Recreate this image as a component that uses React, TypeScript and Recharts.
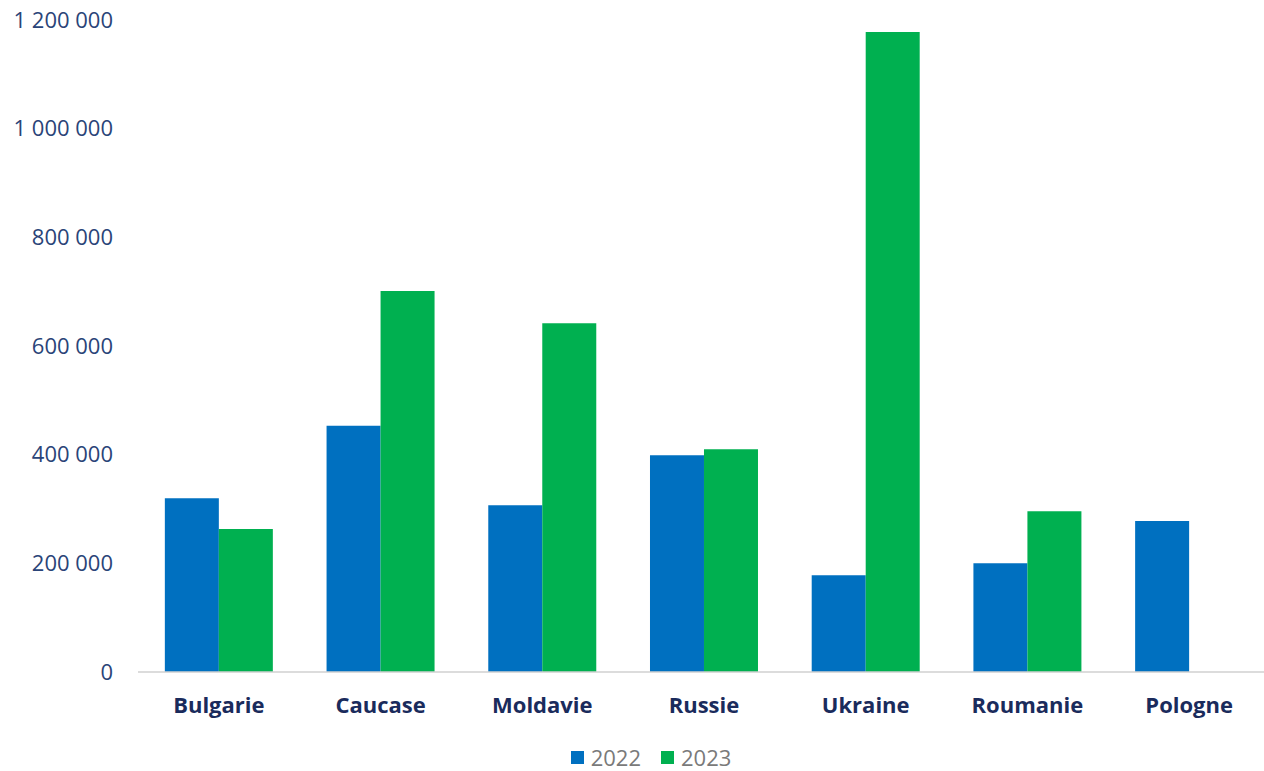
import { Bar, BarChart, Legend, XAxis, YAxis } from 'recharts';

const regions = ['Bulgarie', 'Caucase', 'Moldavie', 'Russie', 'Ukraine', 'Roumanie', 'Pologne'];
const values2022 = [320000, 453000, 307000, 399000, 178000, 200000, 278000];
const values2023 = [263000, 701000, 642000, 410000, 1178000, 296000, null];
const yTicks = [0, 200000, 400000, 600000, 800000, 1000000, 1200000];

const data = regions.map((name, i) => ({
  name,
  y2022: values2022[i],
  y2023: values2023[i],
}));

const BLUE = '#0070c0';
const GREEN = '#00b050';
const FONT = '"Open Sans", "Noto Sans", sans-serif';

// thousands separated by a space, french style
const formatTick = (v: number) => v.toString().replace(/\B(?=(\d{3})+(?!\d))/g, ' ');

function LegendRow() {
  const items = [
    { label: '2022', color: BLUE },
    { label: '2023', color: GREEN },
  ];
  return (
    <div
      style={{
        display: 'flex',
        justifyContent: 'center',
        alignItems: 'center',
        height: 28,
        lineHeight: '28px',
        paddingLeft: 52,
        fontFamily: FONT,
        fontSize: 22,
        color: '#7a7a7a',
      }}
    >
      {items.map((it) => (
        <div key={it.label} style={{ display: 'flex', alignItems: 'center', marginRight: 20 }}>
          <span style={{ width: 13, height: 13, background: it.color, marginRight: 7 }} />
          <span>{it.label}</span>
        </div>
      ))}
    </div>
  );
}

export default function App() {
  return (
    <div style={{ position: 'absolute', left: 0, top: 0, width: 1264, height: 771, overflow: 'hidden', background: '#fff' }}>
      <BarChart
        width={1270}
        height={771}
        data={data}
        margin={{ top: 20, right: 0, bottom: 0, left: 0 }}
        barCategoryGap="16.6%"
        barGap={0}
      >
        <XAxis
          dataKey="name"
          axisLine={{ stroke: '#d0d0d0', strokeWidth: 1.5 }}
          tickLine={false}
          tickSize={0}
          tickMargin={25}
          height={71}
          interval={0}
          tick={{ fill: '#1a2b5c', fontSize: 22, fontWeight: 700, fontFamily: FONT }}
        />
        <YAxis
          width={138}
          domain={[0, 1200000]}
          ticks={yTicks}
          axisLine={false}
          tickLine={false}
          tickSize={0}
          tickMargin={25}
          tickFormatter={formatTick}
          tick={{ fill: '#2a4478', fontSize: 22, fontFamily: FONT }}
        />
        <Legend verticalAlign="bottom" height={28} content={() => <LegendRow />} />
        <Bar dataKey="y2022" name="2022" fill={BLUE} isAnimationActive={false} />
        <Bar dataKey="y2023" name="2023" fill={GREEN} isAnimationActive={false} />
      </BarChart>
    </div>
  );
}
